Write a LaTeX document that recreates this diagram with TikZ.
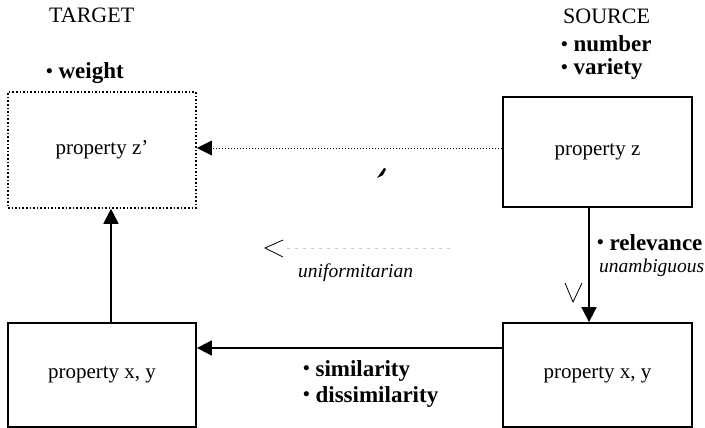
\documentclass[tikz,border=0pt]{standalone}
\usepackage{fontspec}
\setmainfont{Liberation Serif}
\usetikzlibrary{arrows.meta}
\newcommand{\bul}{{\fontsize{19}{19}\selectfont\raisebox{0.1em}{\textbullet}}}
\begin{document}
\begin{tikzpicture}[x=1pt,y=-1pt,
  box/.style={draw, line width=1.8pt, inner sep=0pt, font=\fontsize{21}{26}\selectfont},
  dotbox/.style={draw, line width=1.6pt, dotted, inner sep=0pt, font=\fontsize{21}{26}\selectfont},
  arr/.style={line width=1.8pt, -{Triangle[length=15pt,width=15pt]}},
  dotarr/.style={line width=1pt, dotted, -{Triangle[length=15pt,width=15pt,line width=0pt]}},
  lbl/.style={inner sep=0pt, anchor=base west},
  bl/.style={lbl, font=\fontsize{23}{26}\selectfont\bfseries},
  it/.style={lbl, font=\fontsize{19.5}{24}\selectfont\itshape},
  rm/.style={lbl, font=\fontsize{22}{26}\selectfont},
  chev/.style={line width=0.8pt}]
\useasboundingbox (0,0) rectangle (705,428);

\node[dotbox, minimum width=188pt, minimum height=116pt] (target) at (102,150) {property z'};
\node[box, minimum width=189pt, minimum height=110pt] (source) at (597.5,152) {property z};
\node[box, minimum width=188pt, minimum height=104pt] (bl) at (102,375) {property x, y};
\node[box, minimum width=189pt, minimum height=104pt] (br) at (597.5,375) {property x, y};

\node[rm] (ttl) at (49,23) {TARGET};
\node[bl] (wt) at (46,79) {\bul\ weight};
\node[rm] (stl) at (563,24) {SOURCE};
\node[bl] (num) at (561,52) {\bul\ number};
\node[bl] (var) at (561,75) {\bul\ variety};
\node[bl] (rel) at (597,250) {\bul\ relevance};
\node[it] (una) at (599,272) {unambiguous};
\node[it] (uni) at (298,277) {uniformitarian};
\node[bl] (sim) at (303,376) {\bul\ similarity};
\node[bl] (dis) at (303,402) {\bul\ dissimilarity};

\coordinate (h) at (0,148);
\draw[dotarr] (source.west |- h) -- (target.east |- h);
\draw[arr] ([xshift=9pt]bl.north) -- ([xshift=9pt]target.south);
\draw[arr] ([xshift=-8.5pt]source.south) -- ([xshift=-8.5pt]br.north);
\draw[arr] ([yshift=27pt]br.west) -- ([yshift=27pt]bl.east);

% faint marks
\fill (377,178) -- (384,168) -- (386,169) -- (383,175) -- cycle;
\draw[chev] (283,240) -- (265,248) -- (283,257);
\draw[gray!45, line width=0.9pt, dash pattern=on 3pt off 5pt] (287,248) -- (450,248);
\draw[chev] (565,283) -- (573,302) -- (582,283);
\end{tikzpicture}
\end{document}
